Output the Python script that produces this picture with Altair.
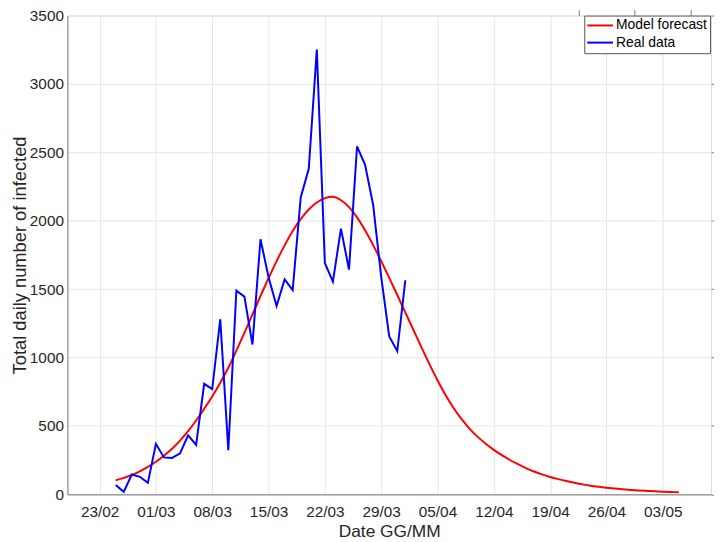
import altair as alt
import pandas as pd

# ---------------- data ----------------
real_start = "2020-02-25"
real_values = [68, 18, 145, 128, 84, 369, 270, 266, 300, 431, 361, 808, 769, 1280, 322,
               1489, 1445, 1095, 1865, 1587, 1377, 1571, 1493, 2171, 2380, 3251, 1691,
               1555, 1942, 1643, 2543, 2409, 2117, 1592, 1154, 1047, 1565]

model_start = "2020-02-25"
model_values = [102, 120, 141, 168, 200, 238, 282, 333, 393, 462, 540, 625, 715, 815,
                925, 1050, 1180, 1315, 1450, 1580, 1705, 1820, 1925, 2012, 2082, 2133,
                2165, 2175, 2150, 2100, 2025, 1930, 1822, 1705, 1582, 1457, 1330, 1203,
                1076, 952, 834, 726, 631, 549, 479, 420, 370, 325, 286, 251, 220, 192,
                167, 146, 127, 111, 97, 84, 73, 63, 55, 48, 42, 37, 32, 28, 25, 22, 19,
                17, 15]

tick_dates = ["2020-02-23", "2020-03-01", "2020-03-08", "2020-03-15", "2020-03-22",
              "2020-03-29", "2020-04-05", "2020-04-12", "2020-04-19", "2020-04-26",
              "2020-05-03"]
x_domain = ["2020-02-19", "2020-05-09"]
y_ticks = [0, 500, 1000, 1500, 2000, 2500, 3000, 3500]
series_names = ["Model forecast", "Real data"]
series_colors = ["#ff0000", "#0000ff"]

FONT = "Liberation Sans"
TXT = "#262626"
W, H = 650, 483.5
PAD_L = 60


def dt(s):
    y, m, d = map(int, s.split("-"))
    return alt.DateTime(year=y, month=m, date=d)


def dates(start, n):
    return list(pd.date_range(start, periods=n, freq="D").strftime("%Y-%m-%dT00:00:00"))


real_df = pd.DataFrame({"date": dates(real_start, len(real_values)),
                        "value": real_values, "series": series_names[1]})
model_df = pd.DataFrame({"date": dates(model_start, len(model_values)),
                         "value": model_values, "series": series_names[0]})

x_scale = alt.Scale(domain=[dt(x_domain[0]), dt(x_domain[1])], nice=False)
y_scale = alt.Scale(domain=[0, 3500], nice=False)
tick_vals = [dt(s) for s in tick_dates]

main_x_axis = alt.Axis(values=tick_vals, format="%d/%m", labelFont=FONT, labelFontSize=15.5,
                       labelColor=TXT, labelPadding=10, ticks=False, tickSize=0,
                       domainColor="#808080", domainWidth=1, grid=True,
                       gridColor="#e6e6e6", gridWidth=1, labelFlush=False,
                       labelOverlap=False, title="Date GG/MM", titleFont=FONT,
                       titleFontSize=17.5, titleFontWeight="normal", titleColor=TXT,
                       titlePadding=3)
main_y_axis = alt.Axis(values=y_ticks, format="d", labelFont=FONT, labelFontSize=15.5,
                       labelColor=TXT, labelPadding=4, ticks=False, tickSize=0,
                       domainColor="#808080", domainWidth=1, grid=True,
                       gridColor="#e6e6e6", gridWidth=1, labelFlush=False,
                       title="Total daily number of infected", titleFont=FONT,
                       titleFontSize=18.5, titleFontWeight="normal", titleColor=TXT,
                       titlePadding=0)
tick_x_axis = alt.Axis(orient="top", position=H, values=tick_vals, labels=False,
                       domain=False, grid=False, ticks=True, tickSize=6,
                       tickColor="#808080", title=None)
tick_y_axis = alt.Axis(orient="right", position=0, values=y_ticks, labels=False,
                       domain=False, grid=False, ticks=True, tickSize=6,
                       tickColor="#808080", title=None)

legend = alt.Legend(title=None, orient="none", legendX=522, legendY=0, direction="vertical",
                    symbolType="M-2.1667,0H2.1667", symbolSize=144, symbolStrokeWidth=2,
                    symbolOffset=6, labelOffset=9, labelFont=FONT, labelFontSize=14,
                    labelColor="#000000", padding=3, rowPadding=3.3, fillColor="white",
                    strokeColor="#555555", labelLimit=0)
color = alt.Color("series:N", scale=alt.Scale(domain=series_names, range=series_colors),
                  legend=legend)

ticks_layer = alt.Chart(model_df).mark_line(opacity=0).encode(
    x=alt.X("date:T", scale=x_scale, axis=tick_x_axis),
    y=alt.Y("value:Q", scale=y_scale, axis=tick_y_axis),
)
red = alt.Chart(model_df).mark_line(strokeWidth=2, interpolate="monotone").encode(
    x=alt.X("date:T", scale=x_scale, axis=main_x_axis),
    y=alt.Y("value:Q", scale=y_scale, axis=main_y_axis),
    color=color,
)
blue = alt.Chart(real_df).mark_line(strokeWidth=2).encode(
    x=alt.X("date:T", scale=x_scale, axis=None),
    y=alt.Y("value:Q", scale=y_scale, axis=None),
    color=color,
)

chart = (
    alt.layer(ticks_layer, red, blue)
    .resolve_axis(x="independent", y="independent")
    .properties(width=W, height=H, autosize=alt.AutoSizeParams(type="none"),
                padding={"left": PAD_L, "top": 5, "right": 3, "bottom": 45})
    .configure_view(stroke=None)
    .configure(background="white")
)

chart.save("out.html", embed_options={"renderer": "svg", "actions": False})
